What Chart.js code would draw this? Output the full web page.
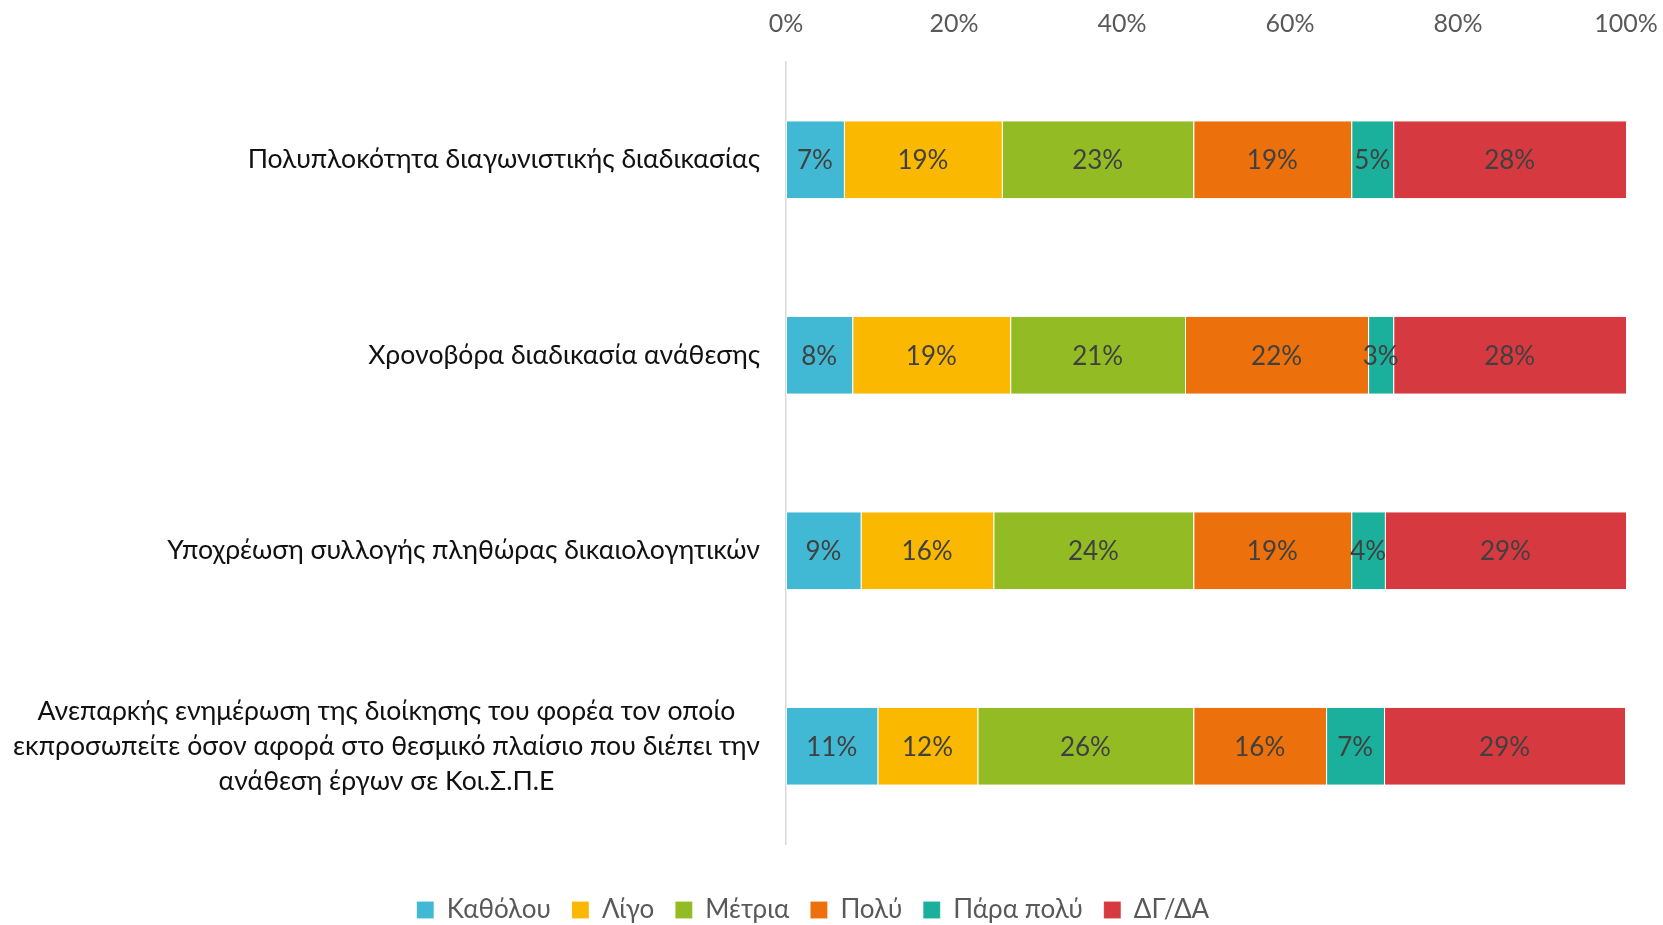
<!DOCTYPE html>
<html>
<head>
<meta charset="utf-8">
<script src="https://cdn.jsdelivr.net/npm/chart.js@4"></script>
<style>
html,body{margin:0;padding:0;background:#fff;overflow:hidden;}
#wrap{width:1663px;height:925px;position:relative;}
</style>
</head>
<body>
<div id="wrap"><canvas id="c" width="1663" height="925"></canvas></div>
<script>
const categories = [
  ["Πολυπλοκότητα διαγωνιστικής διαδικασίας"],
  ["Χρονοβόρα διαδικασία ανάθεσης"],
  ["Υποχρέωση συλλογής πληθώρας δικαιολογητικών"],
  ["Ανεπαρκής ενημέρωση της διοίκησης του φορέα τον οποίο", "εκπροσωπείτε όσον αφορά στο θεσμικό πλαίσιο που διέπει την", "ανάθεση έργων σε Κοι.Σ.Π.Ε"]
];
const seriesNames = ["Καθόλου", "Λίγο", "Μέτρια", "Πολύ", "Πάρα πολύ", "ΔΓ/ΔΑ"];
const katholou  = [6.9, 7.9, 8.9, 10.9];
const ligo      = [18.8, 18.8, 15.8, 11.9];
const metria    = [22.8, 20.8, 23.8, 25.7];
const poly      = [18.8, 21.8, 18.8, 15.8];
const parapoly  = [5.0, 3.0, 4.0, 6.9];
const dgda      = [27.7, 27.7, 28.7, 28.7];
const xTicks = [0, 20, 40, 60, 80, 100];

const colors = ["#42B9D4", "#FAB800", "#93BC24", "#EC700C", "#1BB09B", "#D6393F"];
const values = [katholou, ligo, metria, poly, parapoly, dgda];

const FONT = "Lato, 'Open Sans', sans-serif";

const labelPlugin = {
  id: 'segLabels',
  afterDatasetsDraw(chart) {
    const ctx = chart.ctx;
    ctx.save();
    ctx.font = "26px " + FONT;
    ctx.fillStyle = "#404040";
    ctx.textAlign = "center";
    ctx.textBaseline = "middle";
    chart.data.datasets.forEach((ds, di) => {
      const meta = chart.getDatasetMeta(di);
      meta.data.forEach((bar, i) => {
        const v = ds.data[i];
        const x = (bar.x + bar.base) / 2;
        ctx.fillText(Math.round(v) + "%", x, bar.y + 1);
      });
    });
    ctx.restore();
  }
};

const catLabelPlugin = {
  id: 'catLabels',
  afterDraw(chart) {
    const ctx = chart.ctx;
    const y = chart.scales.y;
    const right = chart.chartArea.left - 26;
    const lh = 35;
    ctx.save();
    ctx.font = "26.6px " + FONT;
    ctx.fillStyle = "#111111";
    ctx.textAlign = "center";
    ctx.textBaseline = "middle";
    chart.data.labels.forEach((lines, i) => {
      const cy = y.getPixelForValue(i);
      const w = Math.max(...lines.map(l => ctx.measureText(l).width));
      const cx = right - w / 2;
      const y0 = cy - (lines.length - 1) * lh / 2;
      lines.forEach((l, k) => ctx.fillText(l, cx, y0 + k * lh));
    });
    ctx.restore();
  }
};

new Chart(document.getElementById('c'), {
  type: 'bar',
  data: {
    labels: categories,
    datasets: seriesNames.map((n, i) => ({
      label: n,
      data: values[i],
      backgroundColor: colors[i],
      borderColor: "rgba(255,255,255,0.6)",
      borderWidth: {left: 1, right: 0, top: 0, bottom: 0},
      borderSkipped: false,
      categoryPercentage: 0.395,
      barPercentage: 1
    }))
  },
  options: {
    indexAxis: 'y',
    responsive: false,
    animation: false,
    layout: {padding: {top: 0, right: 37, bottom: -8, left: 0}},
    scales: {
      x: {
        position: 'top',
        stacked: true,
        min: 0, max: 100,
        afterBuildTicks(axis) { axis.ticks = xTicks.map(v => ({value: v})); },
        afterFit(axis) { axis.height = 62; axis.paddingRight = 0; axis.paddingLeft = 0; },
        grid: {display: false},
        border: {display: false},
        ticks: {
          padding: 15,
          color: "#595959",
          font: {family: FONT, size: 25},
          callback: v => v + "%"
        }
      },
      y: {
        stacked: true,
        afterFit(axis) { axis.width = 786; axis.paddingTop = 0; axis.paddingBottom = 0; },
        grid: {display: false},
        border: {display: true, color: "#D9D9D9", width: 1.5},
        ticks: {display: false}
      }
    },
    plugins: {
      legend: {
        position: 'bottom',
        title: {display: true, text: ' ', font: {size: 1, lineHeight: 1}, padding: {top: 31, bottom: 0}},
        labels: {
          boxWidth: 17, boxHeight: 17,
          padding: 21,
          color: "#595959",
          font: {family: FONT, size: 26, lineHeight: 1}
        }
      },
      tooltip: {enabled: false}
    }
  },
  plugins: [labelPlugin, catLabelPlugin]
});
</script>
</body>
</html>
